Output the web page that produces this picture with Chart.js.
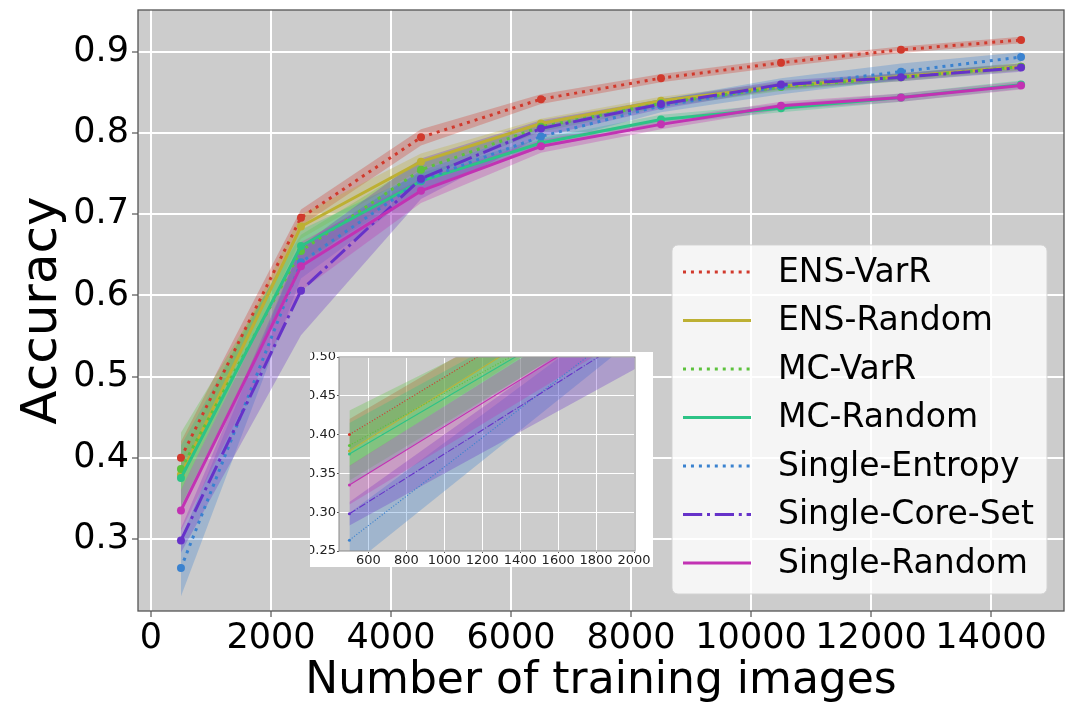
<!DOCTYPE html>
<html><head><meta charset="utf-8">
<script src="https://cdn.jsdelivr.net/npm/chart.js@4.4.0/dist/chart.umd.min.js"></script>
<style>
html,body{margin:0;padding:0;background:#fff;}
#wrap{position:relative;width:1074px;height:704px;overflow:hidden;}
#main{position:absolute;left:0;top:0;}
#inset{position:absolute;left:310px;top:352px;background:#fff;}
</style></head><body>
<div id="wrap">
<canvas id="main" width="1074" height="704"></canvas>
<canvas id="inset" width="343" height="215"></canvas>
</div>
<script>
// ---- data ----
const trainingImages = [500, 2500, 4500, 6500, 8500, 10500, 12500, 14500];
const seriesNames = ['ENS-VarR', 'ENS-Random', 'MC-VarR', 'MC-Random', 'Single-Entropy', 'Single-Core-Set', 'Single-Random'];

const ensVarR       = [0.400, 0.696, 0.795, 0.842, 0.868, 0.887, 0.903, 0.915];
const ensRandom     = [0.379, 0.685, 0.765, 0.812, 0.840, 0.858, 0.870, 0.882];
const mcVarR        = [0.386, 0.655, 0.755, 0.808, 0.837, 0.857, 0.869, 0.882];
const mcRandom      = [0.375, 0.661, 0.741, 0.788, 0.817, 0.831, 0.844, 0.860];
const singleEntropy = [0.264, 0.641, 0.742, 0.796, 0.834, 0.858, 0.876, 0.894];
const singleCoreSet = [0.298, 0.606, 0.744, 0.806, 0.836, 0.860, 0.869, 0.881];
const singleRandom  = [0.335, 0.636, 0.729, 0.784, 0.811, 0.834, 0.844, 0.859];

const ensVarRStd       = [0.020, 0.010, 0.010, 0.006, 0.005, 0.005, 0.004, 0.004];
const ensRandomStd     = [0.020, 0.015, 0.010, 0.006, 0.005, 0.005, 0.004, 0.004];
const mcVarRStd        = [0.045, 0.020, 0.010, 0.006, 0.005, 0.005, 0.005, 0.005];
const mcRandomStd      = [0.040, 0.020, 0.010, 0.006, 0.006, 0.005, 0.005, 0.005];
const singleEntropyStd = [0.035, 0.020, 0.012, 0.010, 0.008, 0.010, 0.010, 0.006];
const singleCoreSetStd = [0.015, 0.055, 0.025, 0.010, 0.006, 0.005, 0.005, 0.005];
const singleRandomStd  = [0.025, 0.030, 0.015, 0.008, 0.006, 0.005, 0.005, 0.005];

const xTickValues = [0, 2000, 4000, 6000, 8000, 10000, 12000, 14000];
const yTickValues = [0.3, 0.4, 0.5, 0.6, 0.7, 0.8, 0.9];
const insetXTickValues = [600, 800, 1000, 1200, 1400, 1600, 1800, 2000];
const insetYTickValues = [0.25, 0.30, 0.35, 0.40, 0.45, 0.50];

// ---- styles ----
const means = [ensVarR, ensRandom, mcVarR, mcRandom, singleEntropy, singleCoreSet, singleRandom];
const stds = [ensVarRStd, ensRandomStd, mcVarRStd, mcRandomStd, singleEntropyStd, singleCoreSetStd, singleRandomStd];
const colors = ['#d1392c', '#bdb033', '#5cc23c', '#2dc386', '#3a82cf', '#6632c9', '#c232b3'];
const styleKind = ['dot', 'solid', 'dot', 'solid', 'dot', 'dashdot', 'solid'];
function dashFor(kind, lw) {
  if (kind === 'dot') return [1 * lw, 1.65 * lw];
  if (kind === 'dashdot') return [6.4 * lw, 1.6 * lw, 1 * lw, 1.6 * lw];
  return [];
}
function rgba(hex, a) {
  const n = parseInt(hex.slice(1), 16);
  return `rgba(${(n >> 16) & 255},${(n >> 8) & 255},${n & 255},${a})`;
}
function pts(arr) { return trainingImages.map((x, i) => ({x: x, y: arr[i]})); }
function fixedTicks(values) { return s => { s.ticks = values.map(v => ({value: v})); }; }

function buildDatasets(lw, pr) {
  const ds = [];
  means.forEach((m, i) => {
    const lower = m.map((v, k) => v - stds[i][k]);
    const upper = m.map((v, k) => v + stds[i][k]);
    const lowIdx = ds.length;
    ds.push({data: pts(lower), borderWidth: 0, pointRadius: 0, fill: false, order: 100 - i, showLine: true, borderColor: 'rgba(0,0,0,0)'});
    ds.push({data: pts(upper), borderWidth: 0, pointRadius: 0, fill: {target: lowIdx}, backgroundColor: rgba(colors[i], 0.3), order: 100 - i, showLine: true, borderColor: 'rgba(0,0,0,0)'});
  });
  means.forEach((m, i) => {
    ds.push({
      label: seriesNames[i], data: pts(m), borderColor: colors[i], backgroundColor: colors[i],
      borderWidth: lw, borderDash: dashFor(styleKind[i], lw), borderCapStyle: 'butt',
      pointRadius: pr, pointBorderWidth: 0, pointBackgroundColor: colors[i], fill: false,
      tension: 0, order: -i, showLine: true
    });
  });
  return ds;
}

const bgPlugin = {
  id: 'plotBg',
  beforeDraw(chart) {
    const a = chart.chartArea, ctx = chart.ctx;
    ctx.save(); ctx.fillStyle = '#cccccc';
    ctx.fillRect(a.left, a.top, a.right - a.left, a.bottom - a.top);
    ctx.restore();
  }
};
function framePlugin(color, w) {
  return {
    id: 'frame',
    afterDatasetsDraw(chart) {
      const a = chart.chartArea, ctx = chart.ctx;
      ctx.save(); ctx.strokeStyle = color; ctx.lineWidth = w;
      ctx.strokeRect(a.left, a.top, a.right - a.left, a.bottom - a.top);
      ctx.restore();
    }
  };
}
const legendPlugin = {
  id: 'customLegend',
  afterDraw(chart) {
    const a = chart.chartArea, ctx = chart.ctx;
    const bx = a.right - 392, by = a.top + 235, bw = 375, bh = 349;
    ctx.save();
    ctx.beginPath();
    ctx.roundRect(bx, by, bw, bh, 6);
    ctx.fillStyle = 'rgba(255,255,255,0.8)'; ctx.fill();
    ctx.strokeStyle = 'rgba(210,210,210,0.9)'; ctx.lineWidth = 1; ctx.stroke();
    ctx.font = '33px "DejaVu Sans"'; ctx.textBaseline = 'middle'; ctx.textAlign = 'left';
    seriesNames.forEach((n, i) => {
      const y = by + 27 + i * 48.5;
      ctx.beginPath(); ctx.setLineDash(dashFor(styleKind[i], 3)); ctx.lineCap = 'butt';
      ctx.strokeStyle = colors[i]; ctx.lineWidth = 3;
      ctx.moveTo(bx + 11, y); ctx.lineTo(bx + 79, y); ctx.stroke();
      ctx.setLineDash([]);
      ctx.fillStyle = '#000'; ctx.fillText(n, bx + 106, y + 1);
    });
    ctx.restore();
  }
};

// ---- main chart ----
new Chart(document.getElementById('main'), {
  type: 'scatter',
  data: {datasets: buildDatasets(3, 4)},
  options: {
    responsive: false, animation: false, devicePixelRatio: 1,
    layout: {padding: {left: 0, top: 10, right: 10, bottom: 0}},
    plugins: {legend: {display: false}, tooltip: {enabled: false}},
    scales: {
      x: {
        type: 'linear', min: -216, max: 15216,
        afterBuildTicks: fixedTicks(xTickValues),
        afterFit(s) { s.height = 93; s.paddingLeft = 0; s.paddingRight = 0; },
        grid: {color: '#ffffff', lineWidth: 2, tickColor: '#333', tickLength: 6, tickWidth: 1},
        border: {display: false},
        ticks: {autoSkip: false, maxRotation: 0,
          font: {family: 'DejaVu Sans', size: 35}, color: '#000', padding: 1,
          callback: v => String(v)},
        title: {display: true, text: 'Number of training images', color: '#000',
          font: {family: 'DejaVu Sans', size: 44, lineHeight: 1}, padding: 0}
      },
      y: {
        type: 'linear', min: 0.211, max: 0.952,
        afterBuildTicks: fixedTicks(yTickValues),
        afterFit(s) { s.width = 138; s.paddingTop = 0; s.paddingBottom = 0; },
        grid: {color: '#ffffff', lineWidth: 2, tickColor: '#333', tickLength: 6, tickWidth: 1},
        border: {display: false},
        ticks: {autoSkip: false,
          font: {family: 'DejaVu Sans', size: 35}, color: '#000', padding: 3,
          callback: v => Number(v).toFixed(1)},
        title: {display: true, text: 'Accuracy', color: '#000',
          font: {family: 'DejaVu Sans', size: 50, lineHeight: 1}, padding: {top: 18, bottom: 0}}
      }
    }
  },
  plugins: [bgPlugin, framePlugin('#555555', 1.3), legendPlugin]
});

// ---- inset chart ----
new Chart(document.getElementById('inset'), {
  type: 'scatter',
  data: {datasets: buildDatasets(1.1, 1.5)},
  options: {
    responsive: false, animation: false, devicePixelRatio: 1,
    layout: {padding: {left: 0, top: 5, right: 18, bottom: 0}},
    plugins: {legend: {display: false}, tooltip: {enabled: false}},
    scales: {
      x: {
        type: 'linear', min: 445, max: 2005,
        afterBuildTicks: fixedTicks(insetXTickValues),
        afterFit(s) { s.height = 16; s.paddingLeft = 0; s.paddingRight = 0; },
        grid: {color: '#ffffff', lineWidth: 1, tickColor: '#555', tickLength: 2, tickWidth: 1},
        border: {display: false},
        ticks: {autoSkip: false, maxRotation: 0,
          font: {family: 'DejaVu Sans', size: 13}, color: '#222', padding: 0,
          callback: v => String(v)}
      },
      y: {
        type: 'linear', min: 0.25, max: 0.50,
        afterBuildTicks: fixedTicks(insetYTickValues),
        afterFit(s) { s.width = 29; s.paddingTop = 0; s.paddingBottom = 0; },
        grid: {color: '#ffffff', lineWidth: 1, tickColor: '#555', tickLength: 2, tickWidth: 1},
        border: {display: false},
        ticks: {autoSkip: false,
          font: {family: 'DejaVu Sans', size: 13}, color: '#222', padding: 1,
          callback: v => Number(v).toFixed(2)}
      }
    }
  },
  plugins: [bgPlugin, framePlugin('#888888', 1)]
});
</script>
</body></html>
